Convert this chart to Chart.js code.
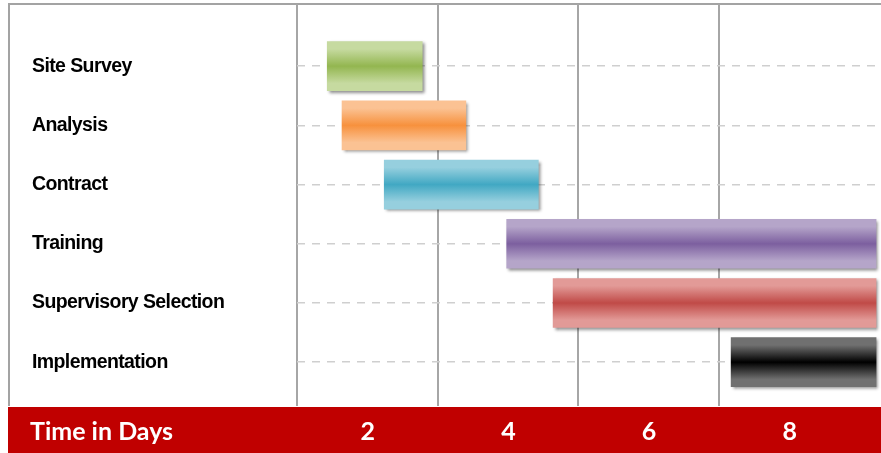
<!DOCTYPE html>
<html>
<head>
<meta charset="utf-8">
<title>Project schedule</title>
<script src="https://cdn.jsdelivr.net/npm/chart.js@4.4.0/dist/chart.umd.min.js"></script>
<style>
  html, body { margin: 0; padding: 0; background: #fff; }
  #wrap { width: 881px; height: 453px; position: relative; }
</style>
</head>
<body>
<div id="wrap"><canvas id="gantt"></canvas></div>
<script>
// Gantt chart: tasks as floating horizontal bars, days along the x axis

// ---- data ------------------------------------------------------------------
const tasks = ['Site Survey', 'Analysis', 'Contract', 'Training',
               'Supervisory Selection', 'Implementation'];
const taskStart = [1.43, 1.64, 2.24, 3.98, 4.64, 7.17];
const taskEnd   = [2.78, 3.40, 4.43, 9.23, 9.23, 9.23];

// labelled days sit between the grid lines
const dayLabels = [2, 4, 6, 8];
const gridDays  = [1, 3, 5, 7];

// bar colours: light edge / dark centre of the glossy band
const barLight = ['#c6daa0', '#fbc293', '#96cfde', '#b5a5c9', '#e29a97', '#707070'];
const barDark  = ['#93b650', '#f7913d', '#41a8c3', '#7c5f9f', '#c04a47', '#000000'];

const BAR_H = 49;

// glossy vertical gradient for each bar, based on the row pixel position
function barGradient(ctx) {
  const chart = ctx.chart;
  const i = ctx.dataIndex;
  const yScale = chart.scales.y;
  if (!yScale || !chart.chartArea || ctx.type !== 'data') return barDark[i];
  const mid = yScale.getPixelForValue(i);
  if (!isFinite(mid)) return barDark[i];
  const g = chart.ctx.createLinearGradient(0, mid - BAR_H / 2, 0, mid + BAR_H / 2);
  g.addColorStop(0, barLight[i]);
  g.addColorStop(0.15, barLight[i]);
  g.addColorStop(0.5, barDark[i]);
  g.addColorStop(0.85, barLight[i]);
  g.addColorStop(1, barLight[i]);
  return g;
}

// frame, red footer band and the "Time in Days" caption
const decorations = {
  id: 'decorations',
  beforeDraw(chart) {
    const { ctx, chartArea } = chart;
    ctx.save();
    // red band under the plot
    ctx.fillStyle = '#c00000';
    ctx.fillRect(8, chartArea.bottom + 1, chart.width - 8, chart.height - chartArea.bottom - 1);
    // grey frame: top and left edges
    ctx.strokeStyle = '#a3a3a3';
    ctx.lineWidth = 2;
    ctx.beginPath();
    ctx.moveTo(9, chartArea.bottom);
    ctx.lineTo(9, chartArea.top);
    ctx.lineTo(chart.width, chartArea.top);
    ctx.stroke();
    // caption
    ctx.fillStyle = '#ffffff';
    ctx.font = 'bold 25px Lato, "Open Sans", sans-serif';
    ctx.textBaseline = 'middle';
    ctx.textAlign = 'left';
    ctx.fillText('Time in Days', 30, chartArea.bottom + 26);
    ctx.restore();
    // tighter letters for the task labels
    ctx.letterSpacing = '-0.6px';
  },
  beforeDatasetsDraw(chart) {
    const ctx = chart.ctx;
    ctx.save();
    ctx.shadowColor = 'rgba(0,0,0,0.45)';
    ctx.shadowBlur = 3;
    ctx.shadowOffsetX = 2;
    ctx.shadowOffsetY = 2;
  },
  afterDatasetsDraw(chart) {
    chart.ctx.restore();
  },
  afterDraw(chart) {
    chart.ctx.letterSpacing = '0px';
  }
};

new Chart(document.getElementById('gantt'), {
  type: 'bar',
  data: {
    datasets: [{
      data: tasks.map((t, i) => ({ y: i, x: [taskStart[i], taskEnd[i]] })),
      backgroundColor: barGradient,
      borderWidth: 0,
      barThickness: BAR_H
    }]
  },
  options: {
    indexAxis: 'y',
    responsive: true,
    maintainAspectRatio: false,
    animation: false,
    layout: { padding: { left: 32, top: 4, right: 0, bottom: 0 } },
    scales: {
      x: {
        type: 'linear',
        min: 1,
        max: 9.3,
        afterBuildTicks: (scale) => {
          scale.ticks = [...gridDays, ...dayLabels].sort((a, b) => a - b)
            .map(v => ({ value: v }));
        },
        afterFit: (scale) => {
          scale.height = 47;
          scale.paddingLeft = 0;
          scale.paddingRight = 0;
        },
        grid: {
          color: (c) => gridDays.includes(c.tick && c.tick.value) ? '#a6a6a6' : 'rgba(0,0,0,0)',
          lineWidth: 2,
          drawTicks: false
        },
        border: { display: false },
        ticks: {
          padding: 11,
          color: '#ffffff',
          font: { family: 'Lato, "Open Sans", sans-serif', size: 25, weight: 'bold' },
          callback: (v) => dayLabels.includes(v) ? String(v) : ''
        }
      },
      y: {
        type: 'linear',
        reverse: true,
        offset: false,
        min: -1.05,
        max: 5.74,
        afterBuildTicks: (scale) => {
          scale.ticks = tasks.map((t, i) => ({ value: i }));
        },
        afterFit: (scale) => {
          scale.width = 265;
          scale.paddingTop = 0;
          scale.paddingBottom = 0;
        },
        grid: {
          offset: false,
          color: '#cfcfcf',
          lineWidth: 1.5,
          drawTicks: false
        },
        border: { display: false, dash: [8, 7] },
        ticks: {
          crossAlign: 'far',
          padding: 0,
          color: '#000000',
          font: { family: '"Liberation Sans", Arial, sans-serif', size: 19.5, weight: 'bold' },
          callback: (v) => tasks[v]
        }
      }
    },
    plugins: {
      legend: { display: false },
      tooltip: { enabled: false }
    }
  },
  plugins: [decorations]
});
</script>
</body>
</html>
